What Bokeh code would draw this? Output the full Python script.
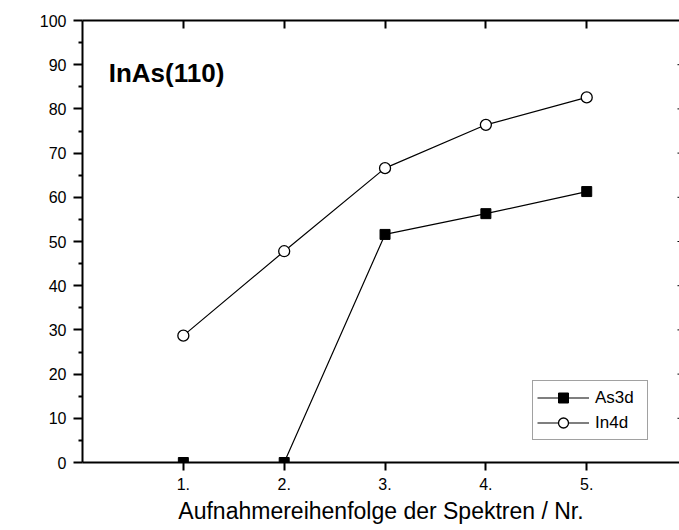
import math
from bokeh.plotting import figure
from bokeh.models import (FixedTicker, LinearAxis, Legend, LegendItem, Label,
                          Range1d)
from bokeh.embed import file_html
from bokeh.resources import INLINE

# ---- data ----
spectra = [1, 2, 3, 4, 5]
tick_labels = {1: "1.", 2: "2.", 3: "3.", 4: "4.", 5: "5."}
as3d = [0.0, 0.0, 51.6, 56.3, 61.3]
in4d = [28.7, 47.8, 66.6, 76.4, 82.6]
y_major = [0, 10, 20, 30, 40, 50, 60, 70, 80, 90, 100]
y_minor = [5, 15, 25, 35, 45, 55, 65, 75, 85, 95]
right_ticks = [10, 20, 30, 40, 50, 60, 70, 80, 90]

FONT = "Liberation Sans"
X_END = 5.92

p = figure(width=679, height=526, x_range=Range1d(0, X_END),
           y_range=Range1d(0, 100), output_backend="svg",
           toolbar_location=None, min_border_left=82, min_border_top=20,
           min_border_bottom=64, min_border_right=0)
p.xgrid.visible = False
p.ygrid.visible = False
p.outline_line_color = None
p.background_fill_color = "white"
p.border_fill_color = "white"

# bottom axis
xa = p.xaxis[0]
xa.ticker = FixedTicker(ticks=spectra)
xa.major_label_overrides = tick_labels
xa.major_tick_in = 0
xa.major_tick_out = 8
xa.minor_tick_in = 0
xa.minor_tick_out = 0
xa.axis_line_width = 2
xa.major_tick_line_width = 2
xa.axis_line_color = "black"
xa.major_tick_line_color = "black"
xa.major_label_text_font = FONT
xa.major_label_text_font_size = "16px"
xa.major_label_text_color = "black"
xa.major_label_standoff = 7
xa.axis_label = "Aufnahmereihenfolge der Spektren / Nr."
xa.axis_label_text_font = FONT
xa.axis_label_text_font_size = "23px"
xa.axis_label_text_font_style = "normal"
xa.axis_label_text_color = "black"
xa.axis_label_standoff = 5

# left axis
ya = p.yaxis[0]
ya.ticker = FixedTicker(ticks=y_major, minor_ticks=y_minor)
ya.major_tick_in = 0
ya.major_tick_out = 9
ya.minor_tick_in = 0
ya.minor_tick_out = 4
ya.axis_line_width = 2
ya.major_tick_line_width = 2
ya.minor_tick_line_width = 2
ya.axis_line_color = "black"
ya.major_tick_line_color = "black"
ya.minor_tick_line_color = "black"
ya.major_label_text_font = FONT
ya.major_label_text_font_size = "16px"
ya.major_label_text_color = "black"
ya.major_label_standoff = 7

# top axis: line plus inward ticks (drawn as minor ticks, so no labels)
top = LinearAxis(ticker=FixedTicker(ticks=[], minor_ticks=spectra),
                 major_tick_in=0, major_tick_out=0,
                 minor_tick_in=8, minor_tick_out=0,
                 axis_line_width=2, minor_tick_line_width=2,
                 minor_tick_line_color="black", axis_line_color="black",
                 major_label_standoff=0)
p.add_layout(top, "above")

# right edge: only short inner tick stubs are visible (axis lies beyond the crop)
p.segment(x0=[X_END - 0.02] * len(right_ticks), y0=right_ticks,
          x1=[X_END] * len(right_ticks), y1=right_ticks,
          line_color="black", line_width=1)

# series
l1 = p.line(spectra, as3d, line_color="black", line_width=1.2)
s1 = p.scatter(spectra, as3d, marker="square", size=10, fill_color="black",
               line_color="black", line_width=1)
l2 = p.line(spectra, in4d, line_color="black", line_width=1.2)
s2 = p.scatter(spectra, in4d, marker="circle", size=11, fill_color="white",
               line_color="black", line_width=1.3)

legend = Legend(items=[LegendItem(label="As3d", renderers=[l1, s1]),
                       LegendItem(label="In4d", renderers=[l2, s2])],
                location=(450, 22), margin=0, padding=4, spacing=0,
                glyph_width=52, glyph_height=25, label_height=25,
                label_width=48, label_standoff=6,
                label_text_font=FONT, label_text_font_size="17px",
                label_text_color="black", border_line_color="#444444",
                border_line_width=1, background_fill_color="white",
                background_fill_alpha=1.0)
p.add_layout(legend)

# title inside plot
p.add_layout(Label(x=0.26, y=88.2, text="InAs(110)", text_font=FONT,
                   text_font_size="26px", text_font_style="bold",
                   text_color="black", text_baseline="alphabetic"))

# y axis label (placed like the reference, slightly above frame centre)
p.add_layout(Label(x=-0.6, y=53.6, text="Oxidationsgrad / %", angle=math.pi / 2,
                   text_font=FONT, text_font_size="23px", text_color="black",
                   text_align="center", text_baseline="middle"))

open("out.html", "w").write(file_html(p, INLINE))
